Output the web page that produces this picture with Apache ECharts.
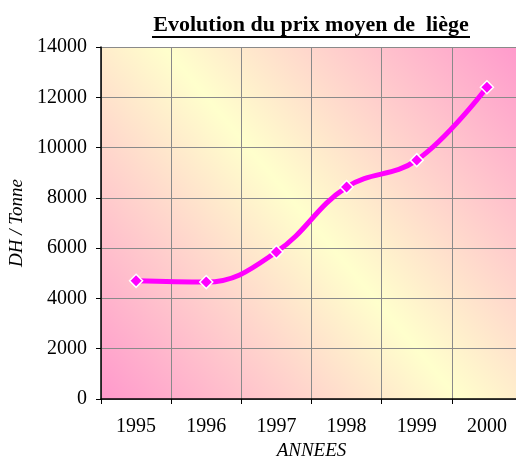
<!DOCTYPE html>
<html>
<head>
<meta charset="utf-8">
<script src="https://cdn.jsdelivr.net/npm/echarts@6/dist/echarts.min.js"></script>
<style>
  html, body { margin: 0; padding: 0; background: #fff; }
  #chart { width: 516px; height: 457px; }
</style>
</head>
<body>
<div id="chart"></div>
<script>
// Average cork price per tonne, by year
const years = ['1995', '1996', '1997', '1998', '1999', '2000'];
const prices = [4700, 4650, 5850, 8430, 9500, 12400];
const yTicks = [0, 2000, 4000, 6000, 8000, 10000, 12000, 14000];

const serif = '"Liberation Serif", "DejaVu Serif", serif';
const chart = echarts.init(document.getElementById('chart'), null, { renderer: 'canvas' });

chart.setOption({
  animation: false,
  backgroundColor: '#ffffff',
  graphic: [
    {
      type: 'text',
      style: {
        text: 'Evolution du prix moyen de  liège',
        font: 'bold 22px ' + serif,
        fill: '#000',
        textAlign: 'center',
        textVerticalAlign: 'middle',
        x: 311,
        y: 25
      },
      z: 10
    },
    {
      type: 'line',
      shape: { x1: 152, y1: 37, x2: 470, y2: 37 },
      style: { stroke: '#000', lineWidth: 2 },
      z: 10
    }
  ],
  grid: {
    left: 101,
    top: 47,
    right: -6,
    bottom: 58,
    outerBoundsMode: 'none',
    containLabel: false,
    show: true,
    borderWidth: 0,
    backgroundColor: {
      type: 'linear',
      x: 0, y: 1, x2: 1, y2: 0,
      colorStops: [
        { offset: 0, color: '#ff99cc' },
        { offset: 0.5, color: '#ffffcc' },
        { offset: 1, color: '#ff99cc' }
      ]
    }
  },
  xAxis: {
    type: 'category',
    data: years,
    boundaryGap: true,
    name: 'ANNEES',
    nameLocation: 'middle',
    nameGap: 42,
    nameTextStyle: { fontFamily: serif, fontStyle: 'italic', fontSize: 19, color: '#000' },
    axisLine: { lineStyle: { color: '#000', width: 1.5 } },
    axisTick: { show: true, length: 5, lineStyle: { color: '#000' } },
    axisLabel: { fontFamily: serif, fontSize: 20, color: '#000', margin: 18 },
    splitLine: { show: true, lineStyle: { color: '#8a8a8a', width: 1 } }
  },
  yAxis: {
    type: 'value',
    min: 0,
    max: 14000,
    interval: 2000,
    name: 'DH / Tonne',
    nameLocation: 'middle',
    nameGap: 73,
    nameTextStyle: { fontFamily: serif, fontStyle: 'italic', fontSize: 19, color: '#000' },
    axisLine: { show: true, lineStyle: { color: '#000', width: 1.5 } },
    axisTick: { show: true, length: 5, lineStyle: { color: '#000' } },
    axisLabel: {
      fontFamily: serif, fontSize: 20, color: '#000', margin: 14,
      formatter: v => yTicks.includes(v) ? String(v) : ''
    },
    splitLine: { show: true, lineStyle: { color: '#8a8a8a', width: 1 } }
  },
  series: [{
    type: 'line',
    data: prices,
    smooth: 0.4,
    symbol: 'diamond',
    symbolSize: 13,
    lineStyle: { color: '#ff00ff', width: 5 },
    itemStyle: { color: '#ff00ff', borderColor: '#ffffff', borderWidth: 1.5 }
  }]
});
</script>
</body>
</html>
